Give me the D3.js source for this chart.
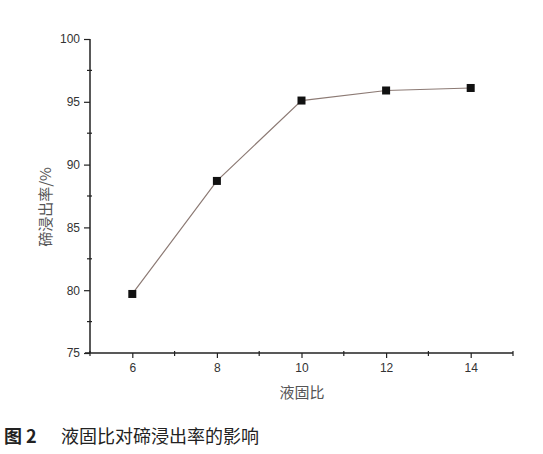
<!DOCTYPE html>
<html lang="zh-CN"><head><meta charset="UTF-8">
<title>液固比对碲浸出率的影响</title>
<style>
	body { margin: 0; background: #fff; }
	svg text { font-family: 'Liberation Sans', Arial, sans-serif; }
	svg text.cjk { font-family: 'Noto Sans CJK SC', sans-serif; }
</style>
<script src="https://d3js.org/d3.v7.min.js" charset="utf-8"></script>
</head>
<body>
<div id="chart"></div>
<script type="text/javascript">
	// 液固比 vs 碲浸出率
	var ratios = [6, 8, 10, 12, 14];
	var leachRate = [79.7, 88.7, 95.1, 95.9, 96.1];
	var xTicks = [6, 8, 10, 12, 14];
	var xMinor = [5, 7, 9, 11, 13, 15];
	var yTicks = [75, 80, 85, 90, 95, 100];
	var yMinor = [77.5, 82.5, 87.5, 92.5, 97.5];

	var W = 543, H = 454;
	var mLeft = 90, mRight = 513, mTop = 39, mBottom = 353;

	var svg = d3.select('#chart').append('svg')
		.attr('width', W).attr('height', H);

	var x = d3.scaleLinear().domain([5, 15]).range([mLeft, mRight]);
	var y = d3.scaleLinear().domain([75, 100]).range([mBottom, mTop]);

	var axisCol = '#222';

	// x axis
	var gx = svg.append('g').attr('transform', 'translate(0,' + mBottom + ')');
	gx.call(d3.axisBottom(x).tickValues(xTicks).tickSize(5).tickPadding(5).tickFormat(d3.format('d')));
	gx.select('.domain').attr('stroke', axisCol).attr('stroke-width', 1.5)
		.attr('d', 'M' + (mLeft - 5) + ',0H' + mRight);
	gx.selectAll('.tick line').attr('stroke', axisCol).attr('stroke-width', 1.2);
	gx.selectAll('.tick text').attr('fill', '#333').attr('font-size', 12);
	gx.selectAll('line.minor').data(xMinor).enter().append('line')
		.attr('class', 'minor')
		.attr('x1', function(d){ return x(d); }).attr('x2', function(d){ return x(d); })
		.attr('y1', -2).attr('y2', 3)
		.attr('stroke', axisCol).attr('stroke-width', 1.2);

	// y axis
	var gy = svg.append('g').attr('transform', 'translate(' + mLeft + ',0)');
	gy.call(d3.axisLeft(y).tickValues(yTicks).tickSize(6).tickPadding(4).tickFormat(d3.format('d')));
	gy.select('.domain').attr('stroke', axisCol).attr('stroke-width', 1.5)
		.attr('d', 'M0,' + mTop + 'V' + mBottom);
	gy.selectAll('.tick line').attr('stroke', axisCol).attr('stroke-width', 1.2);
	gy.selectAll('.tick text').attr('fill', '#333').attr('font-size', 12);
	gy.selectAll('line.minor').data(yMinor).enter().append('line')
		.attr('class', 'minor')
		.attr('y1', function(d){ return y(d); }).attr('y2', function(d){ return y(d); })
		.attr('x1', -3).attr('x2', 2)
		.attr('stroke', axisCol).attr('stroke-width', 1.2);

	// axis titles
	svg.append('text').attr('class', 'cjk')
		.attr('x', 302).attr('y', 398)
		.attr('text-anchor', 'middle')
		.attr('font-size', 15).attr('fill', '#555')
		.text('液固比');
	svg.append('text').attr('class', 'cjk')
		.attr('transform', 'translate(51,207) rotate(-90)')
		.attr('text-anchor', 'middle')
		.attr('font-size', 15).attr('fill', '#555')
		.text('碲浸出率/%');

	// line + markers
	var pts = ratios.map(function(r, i){ return [r, leachRate[i]]; });
	svg.append('path')
		.datum(pts)
		.attr('fill', 'none')
		.attr('stroke', '#8c7a74')
		.attr('stroke-width', 1.2)
		.attr('d', d3.line().x(function(d){ return x(d[0]); }).y(function(d){ return y(d[1]); }));
	svg.selectAll('rect.pt').data(pts).enter().append('rect')
		.attr('class', 'pt')
		.attr('x', function(d){ return x(d[0]) - 4; })
		.attr('y', function(d){ return y(d[1]) - 4; })
		.attr('width', 8).attr('height', 8)
		.attr('fill', '#111');

	// caption
	svg.append('text').attr('class', 'cjk')
		.attr('x', 4).attr('y', 443)
		.attr('font-size', 18).attr('font-weight', 'bold').attr('fill', '#222')
		.text('图 2');
	svg.append('text').attr('class', 'cjk')
		.attr('x', 61).attr('y', 443)
		.attr('font-size', 18).attr('fill', '#222')
		.text('液固比对碲浸出率的影响');
</script>
</body></html>
